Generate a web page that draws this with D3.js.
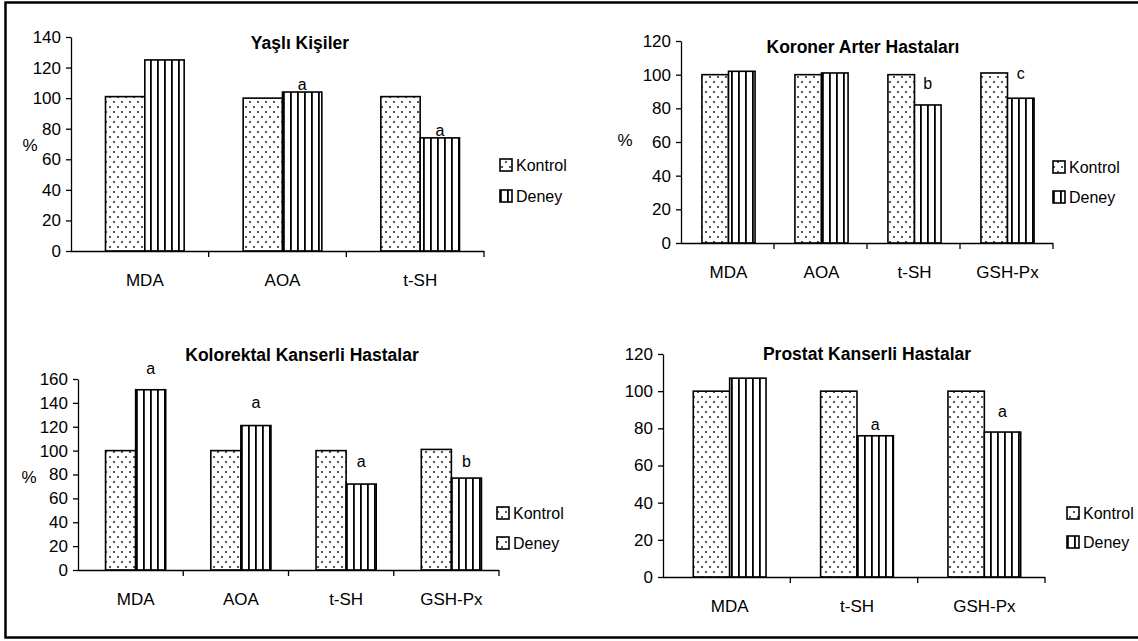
<!DOCTYPE html>
<html>
<head>
<meta charset="utf-8">
<script src="https://cdn.jsdelivr.net/npm/d3@7"></script>
<style>
  body { margin: 0; background: #fff; }
  svg { display: block; font-family: "Liberation Sans", Arial, sans-serif; }
  .axis path, .axis line { stroke: #000; stroke-width: 1.3; }
  .axis text { font-size: 17px; fill: #000; }
  .title { font-size: 17.5px; font-weight: bold; fill: #000; }
  .mark, .legend text { font-size: 16px; fill: #000; }
  .pct { font-size: 17px; fill: #000; }
</style>
</head>
<body>
<svg width="1138" height="641"></svg>
<script>
// series names
var seriesNames = ["Kontrol", "Deney"];

// Yaşlı Kişiler
var tlCategories = ["MDA", "AOA", "t-SH"];
var tlKontrol = [101, 100, 101];
var tlDeney = [125, 104, 74];
var tlMarks = ["", "a", "a"];
var tlMarkLevel = [0, 109, 79];
var tlTicks = [0, 20, 40, 60, 80, 100, 120, 140];

// Koroner Arter Hastaları
var trCategories = ["MDA", "AOA", "t-SH", "GSH-Px"];
var trKontrol = [100, 100, 100, 101];
var trDeney = [102, 101, 82, 86];
var trMarks = ["", "", "b", "c"];
var trMarkLevel = [0, 0, 95, 101];
var trTicks = [0, 20, 40, 60, 80, 100, 120];

// Kolorektal Kanserli Hastalar
var blCategories = ["MDA", "AOA", "t-SH", "GSH-Px"];
var blKontrol = [100, 100, 100, 101];
var blDeney = [151, 121, 72, 77];
var blMarks = ["a", "a", "a", "b"];
var blMarkLevel = [169, 140, 91, 91];
var blTicks = [0, 20, 40, 60, 80, 100, 120, 140, 160];

// Prostat Kanserli Hastalar
var brCategories = ["MDA", "t-SH", "GSH-Px"];
var brKontrol = [100, 100, 100];
var brDeney = [107, 76, 78];
var brMarks = ["", "a", "a"];
var brMarkLevel = [0, 82, 89];
var brTicks = [0, 20, 40, 60, 80, 100, 120];

var svg = d3.select("svg");

// fill patterns (dotted for Kontrol, vertical stripes for Deney)
var defs = svg.append("defs");
var dots = defs.append("pattern").attr("id", "dots")
    .attr("patternUnits", "userSpaceOnUse").attr("width", 8).attr("height", 10);
dots.append("rect").attr("width", 8).attr("height", 10).attr("fill", "#fff");
dots.append("circle").attr("cx", 2).attr("cy", 2).attr("r", 0.95).attr("fill", "#111");
dots.append("circle").attr("cx", 6).attr("cy", 7).attr("r", 0.95).attr("fill", "#111");

var stripes = defs.append("pattern").attr("id", "stripes")
    .attr("patternUnits", "userSpaceOnUse").attr("width", 7).attr("height", 10);
stripes.append("rect").attr("width", 7).attr("height", 10).attr("fill", "#fff");
stripes.append("rect").attr("x", 3).attr("width", 1.8).attr("height", 10).attr("fill", "#000");

var fills = ["url(#dots)", "url(#stripes)"];

// outer frame (left, top, bottom)
svg.append("path")
    .attr("d", "M1138,2.5 L5.5,2.5 L5.5,637.5 L1138,637.5")
    .attr("fill", "none").attr("stroke", "#000").attr("stroke-width", 2.5);

function drawPanel(p) {
    var x = d3.scaleBand().domain(p.categories).range([p.left, p.right])
        .paddingInner(1.5 / 3.5).paddingOuter(0.75 / 3.5);
    var xs = d3.scaleBand().domain(seriesNames).range([0, x.bandwidth()]);
    var y = d3.scaleLinear().domain([0, p.max]).range([p.bottom, p.top]);

    var g = svg.append("g");

    var rows = p.categories.map(function (c, i) {
        return { cat: c, values: [p.kontrol[i], p.deney[i]], mark: p.marks[i], level: p.level[i] };
    });

    // bars
    rows.forEach(function (r) {
        r.values.forEach(function (v, j) {
            g.append("rect")
                .attr("x", x(r.cat) + xs(seriesNames[j]) + p.shift)
                .attr("y", y(v))
                .attr("width", xs.bandwidth())
                .attr("height", y(0) - y(v))
                .attr("fill", fills[j])
                .attr("stroke", "#000")
                .attr("stroke-width", 1.6);
        });
        if (r.mark) {
            g.append("text").attr("class", "mark")
                .attr("x", x(r.cat) + xs("Deney") + xs.bandwidth() / 2 + p.shift)
                .attr("y", y(r.level))
                .attr("dy", "0.35em")
                .attr("text-anchor", "middle")
                .text(r.mark);
        }
    });

    // Y axis
    g.append("g").attr("class", "axis")
        .attr("transform", "translate(" + p.left + ",0)")
        .call(d3.axisLeft(y).tickValues(p.ticks).tickSize(5).tickPadding(5).tickSizeOuter(0));

    // X axis, labels at band centres
    g.append("g").attr("class", "axis")
        .attr("transform", "translate(0," + p.bottom + ")")
        .call(d3.axisBottom(x).tickSize(0).tickPadding(23))
        .call(function (a) {
            a.select(".domain").attr("d", "M" + p.left + ",0.5H" + p.right);
            a.selectAll(".tick").attr("transform", function (d) {
                return "translate(" + (x(d) + x.bandwidth() / 2 + p.shift) + ",0)";
            });
        });

    // x ticks on category boundaries
    g.selectAll(".xb").data(p.categories).enter().append("line")
        .attr("x1", function (d) { return x(d) - x.step() * x.paddingOuter() + x.step(); })
        .attr("x2", function (d) { return x(d) - x.step() * x.paddingOuter() + x.step(); })
        .attr("y1", p.bottom).attr("y2", p.bottom + 6)
        .attr("stroke", "#000").attr("stroke-width", 1.3);

    g.append("text").attr("class", "title")
        .attr("x", p.titleX).attr("y", p.titleY).attr("dy", "0.35em")
        .attr("text-anchor", "middle").text(p.title);

    if (p.pctX) {
        g.append("text").attr("class", "pct")
            .attr("x", p.pctX).attr("y", p.pctY).attr("dy", "0.35em")
            .attr("text-anchor", "middle").text("%");
    }

    // legend
    var lg = g.append("g").attr("class", "legend");
    seriesNames.forEach(function (s, j) {
        var ly = p.legendY + j * p.legendGap;
        lg.append("rect")
            .attr("x", p.legendX).attr("y", ly - 6)
            .attr("width", 12).attr("height", 12)
            .attr("fill", p.legendFills[j])
            .attr("stroke", "#000").attr("stroke-width", 1.6);
        lg.append("text")
            .attr("x", p.legendX + 16).attr("y", ly).attr("dy", "0.35em")
            .text(s);
    });
}

drawPanel({
    categories: tlCategories, kontrol: tlKontrol, deney: tlDeney, marks: tlMarks, level: tlMarkLevel,
    ticks: tlTicks, max: 140, left: 71, right: 484, top: 37, bottom: 251, shift: 5,
    title: "Yaşlı Kişiler", titleX: 300, titleY: 43, pctX: 30, pctY: 145,
    legendX: 500, legendY: 165, legendGap: 31, legendFills: fills
});

drawPanel({
    categories: trCategories, kontrol: trKontrol, deney: trDeney, marks: trMarks, level: trMarkLevel,
    ticks: trTicks, max: 120, left: 681, right: 1053, top: 41, bottom: 243, shift: 1,
    title: "Koroner Arter Hastaları", titleX: 863, titleY: 47, pctX: 625, pctY: 140,
    legendX: 1053, legendY: 167, legendGap: 30, legendFills: fills
});

drawPanel({
    categories: blCategories, kontrol: blKontrol, deney: blDeney, marks: blMarks, level: blMarkLevel,
    ticks: blTicks, max: 160, left: 78, right: 499, top: 379, bottom: 570, shift: 5,
    title: "Kolorektal Kanserli Hastalar", titleX: 302, titleY: 355, pctX: 29, pctY: 477,
    legendX: 497, legendY: 513, legendGap: 30, legendFills: [fills[0], fills[0]]
});

drawPanel({
    categories: brCategories, kontrol: brKontrol, deney: brDeney, marks: brMarks, level: brMarkLevel,
    ticks: brTicks, max: 120, left: 663, right: 1045, top: 354, bottom: 577, shift: 3,
    title: "Prostat Kanserli Hastalar", titleX: 867, titleY: 354, pctX: null, pctY: null,
    legendX: 1067, legendY: 513, legendGap: 29, legendFills: fills
});
</script>
</body>
</html>
